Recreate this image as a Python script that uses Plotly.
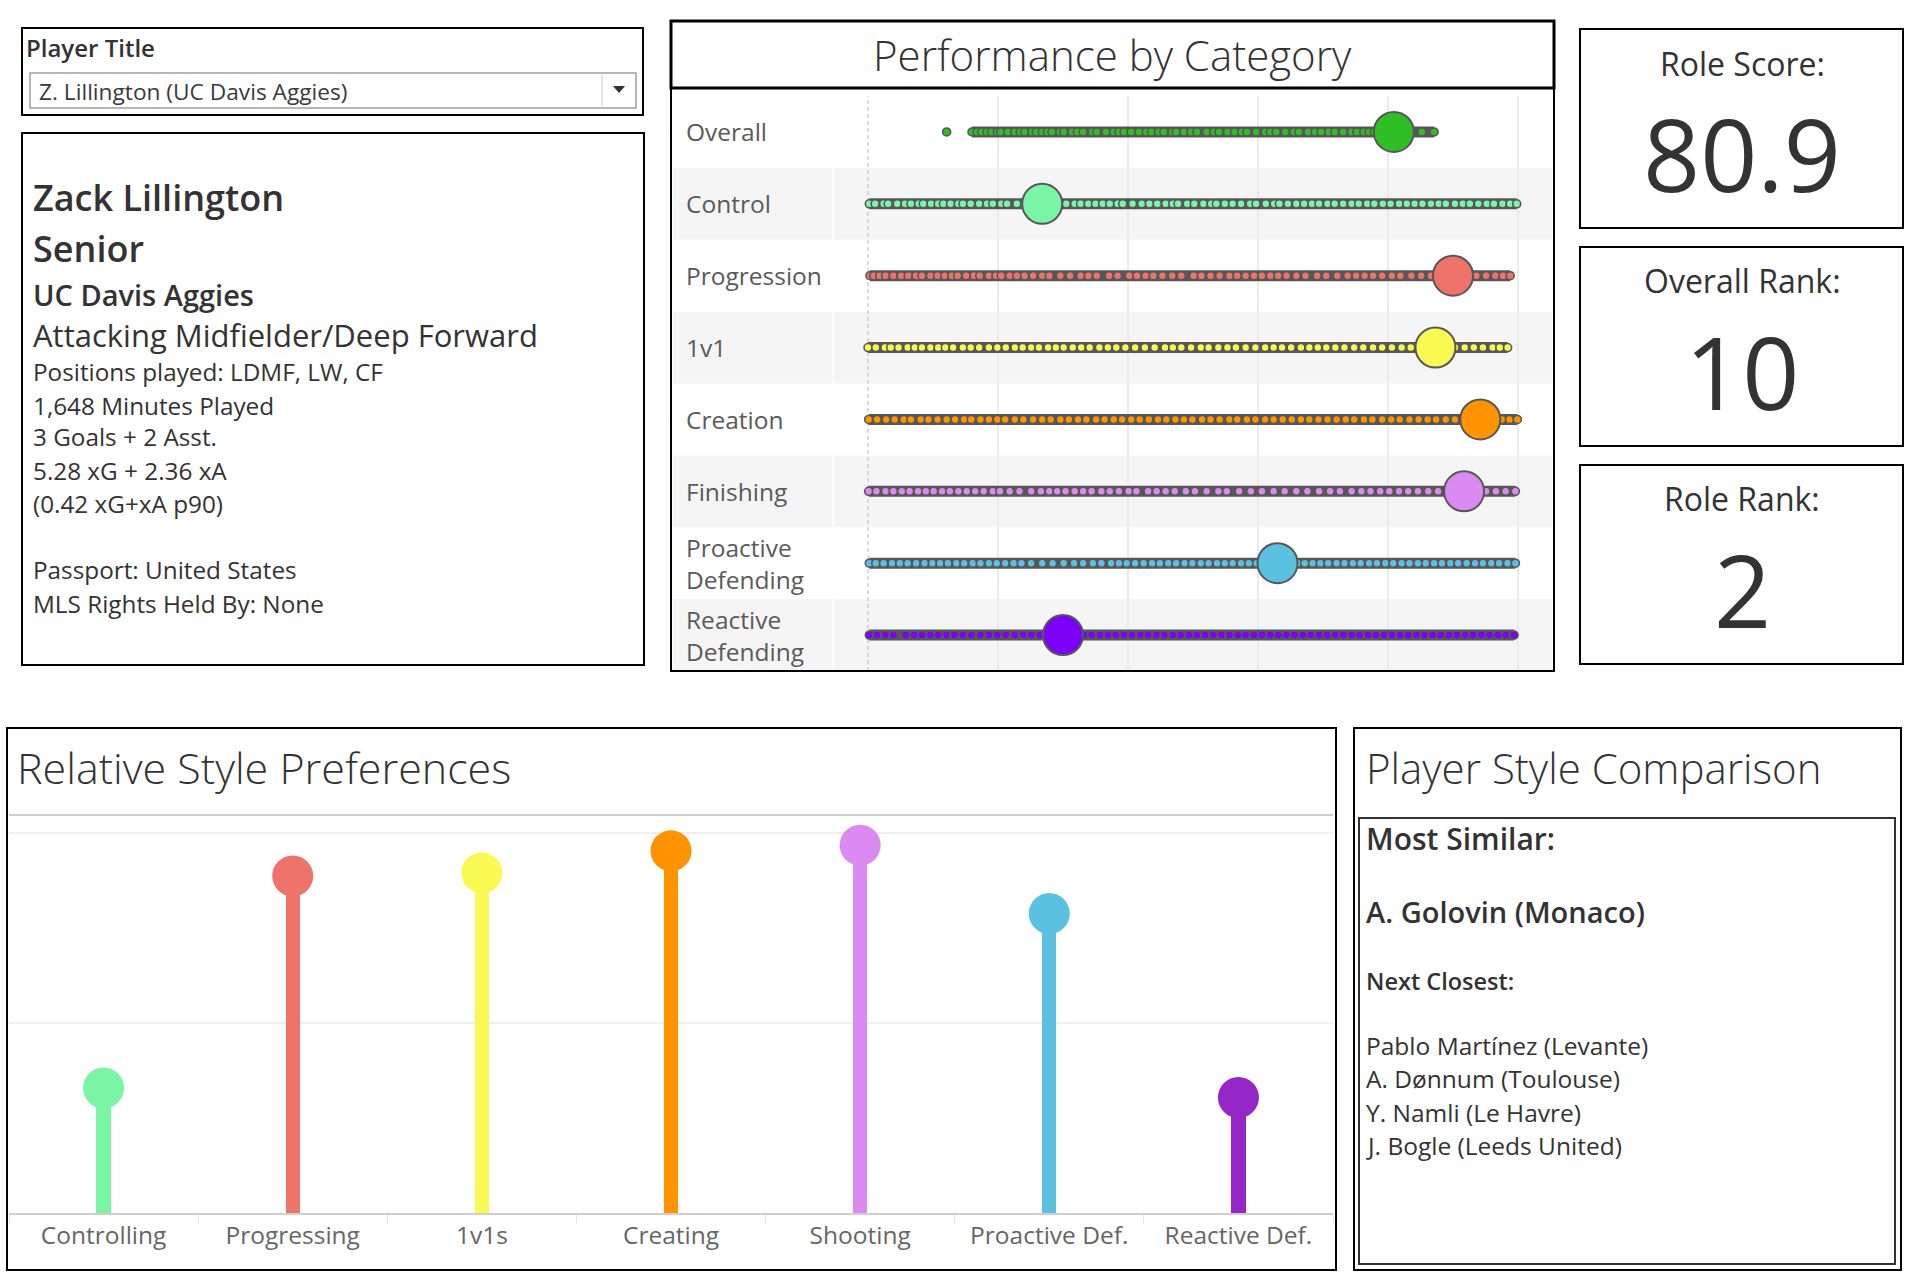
import plotly.graph_objects as go

W, H = 1910, 1278
FONT = "Open Sans"
DARK = "#333333"

# ---------------- data ----------------
perf_categories = ["Overall", "Control", "Progression", "1v1", "Creation",
                   "Finishing", "Proactive<br>Defending", "Reactive<br>Defending"]
perf_colors = ["#2EBF24", "#7AF5A6", "#EE7369", "#F8FA52", "#FF9400",
               "#DB8AF2", "#5BC1E1", "#7D00FA"]
player_values = [0.809, 0.268, 0.900, 0.873, 0.942, 0.917, 0.630, 0.300]

overall_pop = [0.121, 0.160, 0.168, 0.175, 0.183, 0.190, 0.199, 0.204, 0.215, 0.226, 0.234, 0.241,
               0.252, 0.259, 0.268, 0.276, 0.283, 0.295, 0.301, 0.314, 0.322, 0.331, 0.345, 0.352,
               0.366, 0.378, 0.386, 0.394, 0.405, 0.417, 0.428, 0.436, 0.447, 0.455, 0.468, 0.474,
               0.486, 0.497, 0.506, 0.521, 0.532, 0.540, 0.553, 0.564, 0.575, 0.583, 0.597, 0.611,
               0.619, 0.628, 0.642, 0.655, 0.663, 0.677, 0.688, 0.697, 0.709, 0.718, 0.731, 0.744,
               0.752, 0.763, 0.771, 0.779, 0.787, 0.796, 0.818, 0.834, 0.852, 0.871]
control_pop = [0.002, 0.011, 0.024, 0.031, 0.045, 0.057, 0.066, 0.078, 0.085, 0.097, 0.108, 0.116,
               0.127, 0.139, 0.146, 0.158, 0.171, 0.183, 0.192, 0.205, 0.214, 0.229, 0.241, 0.256,
               0.262, 0.281, 0.293, 0.305, 0.318, 0.327, 0.339, 0.350, 0.361, 0.372, 0.384, 0.392,
               0.407, 0.421, 0.433, 0.445, 0.458, 0.469, 0.477, 0.491, 0.502, 0.516, 0.528, 0.536,
               0.549, 0.561, 0.574, 0.588, 0.597, 0.612, 0.625, 0.633, 0.646, 0.659, 0.671, 0.683,
               0.694, 0.707, 0.718, 0.731, 0.744, 0.755, 0.768, 0.779, 0.792, 0.804, 0.817, 0.829,
               0.841, 0.853, 0.866, 0.878, 0.889, 0.903, 0.915, 0.926, 0.939, 0.952, 0.963, 0.976,
               0.988, 0.998]
progression_pop = [0.003, 0.009, 0.018, 0.027, 0.039, 0.051, 0.062, 0.074, 0.083, 0.096, 0.107,
                   0.118, 0.129, 0.138, 0.151, 0.163, 0.172, 0.186, 0.197, 0.205, 0.218, 0.229,
                   0.241, 0.254, 0.268, 0.279, 0.296, 0.311, 0.327, 0.339, 0.352, 0.371, 0.384,
                   0.402, 0.414, 0.427, 0.439, 0.453, 0.468, 0.482, 0.501, 0.513, 0.527, 0.541,
                   0.556, 0.568, 0.581, 0.594, 0.606, 0.619, 0.631, 0.644, 0.659, 0.673, 0.691,
                   0.705, 0.722, 0.738, 0.751, 0.764, 0.777, 0.791, 0.806, 0.819, 0.836, 0.851,
                   0.866, 0.879, 0.894, 0.909, 0.923, 0.936, 0.951, 0.965, 0.977, 0.988]
onevone_pop = [0.000, 0.012, 0.026, 0.035, 0.047, 0.061, 0.072, 0.083, 0.096, 0.108, 0.119, 0.131,
               0.146, 0.158, 0.171, 0.186, 0.199, 0.212, 0.226, 0.238, 0.251, 0.263, 0.277, 0.289,
               0.301, 0.315, 0.328, 0.341, 0.356, 0.369, 0.382, 0.396, 0.411, 0.426, 0.441, 0.457,
               0.469, 0.482, 0.497, 0.512, 0.524, 0.539, 0.553, 0.566, 0.581, 0.596, 0.611, 0.624,
               0.637, 0.651, 0.666, 0.679, 0.692, 0.705, 0.719, 0.733, 0.748, 0.762, 0.777, 0.791,
               0.806, 0.821, 0.835, 0.849, 0.861, 0.876, 0.891, 0.903, 0.918, 0.932, 0.946, 0.961,
               0.972, 0.984]
creation_pop = [0.001, 0.014, 0.028, 0.041, 0.055, 0.066, 0.081, 0.093, 0.107, 0.121, 0.134, 0.148,
                0.159, 0.173, 0.186, 0.199, 0.211, 0.226, 0.239, 0.254, 0.268, 0.281, 0.296, 0.309,
                0.323, 0.336, 0.351, 0.364, 0.378, 0.391, 0.405, 0.418, 0.432, 0.446, 0.459, 0.473,
                0.486, 0.499, 0.514, 0.527, 0.541, 0.556, 0.568, 0.583, 0.596, 0.611, 0.624, 0.638,
                0.652, 0.666, 0.679, 0.693, 0.707, 0.721, 0.735, 0.748, 0.763, 0.776, 0.791, 0.805,
                0.818, 0.833, 0.847, 0.861, 0.874, 0.889, 0.903, 0.917, 0.931, 0.948, 0.961, 0.975,
                0.987, 0.999]
finishing_pop = [0.001, 0.013, 0.027, 0.039, 0.052, 0.064, 0.077, 0.089, 0.101, 0.114, 0.126,
                 0.139, 0.152, 0.165, 0.178, 0.192, 0.203, 0.218, 0.233, 0.251, 0.266, 0.279,
                 0.291, 0.304, 0.318, 0.331, 0.344, 0.359, 0.372, 0.386, 0.401, 0.413, 0.431,
                 0.444, 0.458, 0.472, 0.489, 0.503, 0.521, 0.539, 0.552, 0.571, 0.589, 0.606,
                 0.624, 0.641, 0.659, 0.676, 0.694, 0.711, 0.726, 0.744, 0.759, 0.773, 0.788,
                 0.802, 0.817, 0.831, 0.846, 0.862, 0.877, 0.891, 0.906, 0.921, 0.936, 0.951,
                 0.966, 0.981, 0.996]
proactive_pop = [0.002, 0.012, 0.024, 0.037, 0.049, 0.061, 0.074, 0.087, 0.099, 0.111, 0.123,
                 0.136, 0.148, 0.161, 0.173, 0.186, 0.198, 0.211, 0.224, 0.236, 0.251, 0.268,
                 0.284, 0.301, 0.317, 0.331, 0.346, 0.359, 0.374, 0.386, 0.398, 0.411, 0.424,
                 0.437, 0.449, 0.462, 0.474, 0.487, 0.499, 0.512, 0.524, 0.537, 0.549, 0.561,
                 0.574, 0.586, 0.598, 0.611, 0.623, 0.637, 0.649, 0.661, 0.672, 0.684, 0.696,
                 0.708, 0.721, 0.733, 0.746, 0.758, 0.771, 0.783, 0.796, 0.808, 0.821, 0.833,
                 0.846, 0.858, 0.871, 0.883, 0.896, 0.908, 0.921, 0.934, 0.946, 0.959, 0.971,
                 0.984, 0.996]
reactive_pop = [0.002, 0.014, 0.027, 0.039, 0.058, 0.071, 0.083, 0.096, 0.108, 0.121, 0.133,
                0.146, 0.159, 0.173, 0.186, 0.199, 0.212, 0.226, 0.239, 0.251, 0.264, 0.276,
                0.289, 0.301, 0.317, 0.332, 0.344, 0.357, 0.369, 0.381, 0.394, 0.406, 0.419,
                0.431, 0.444, 0.456, 0.469, 0.481, 0.494, 0.506, 0.519, 0.531, 0.544, 0.556,
                0.569, 0.581, 0.594, 0.606, 0.619, 0.631, 0.644, 0.656, 0.669, 0.681, 0.694,
                0.706, 0.719, 0.731, 0.744, 0.756, 0.769, 0.781, 0.794, 0.806, 0.819, 0.831,
                0.844, 0.856, 0.869, 0.881, 0.894, 0.906, 0.919, 0.931, 0.944, 0.956, 0.969,
                0.981, 0.994]
population = [overall_pop, control_pop, progression_pop, onevone_pop, creation_pop,
              finishing_pop, proactive_pop, reactive_pop]

style_categories = ["Controlling", "Progressing", "1v1s", "Creating", "Shooting",
                    "Proactive Def.", "Reactive Def."]
style_values = [0.329, 0.887, 0.895, 0.953, 0.968, 0.788, 0.304]
style_colors = ["#7AF5A6", "#EE7369", "#F8FA52", "#FF9400", "#DB8AF2", "#5BC1E1", "#9527C8"]

info_lines = [
    ("Zack Lillington", 36, 600, 197),
    ("Senior", 36, 600, 248),
    ("UC Davis Aggies", 29, 600, 294),
    ("Attacking Midfielder/Deep Forward", 31, "normal", 335),
    ("Positions played: LDMF, LW, CF", 24.3, "normal", 371),
    ("1,648 Minutes Played", 24.3, "normal", 405),
    ("3 Goals + 2 Asst.", 24.3, "normal", 437),
    ("5.28 xG + 2.36 xA", 24.3, "normal", 470),
    ("(0.42 xG+xA p90)", 24.3, "normal", 503),
    ("Passport: United States", 24.3, "normal", 569),
    ("MLS Rights Held By: None", 24.3, "normal", 603),
]
kpi_titles = ["Role Score:", "Overall Rank:", "Role Rank:"]
kpi_values = ["80.9", "10", "2"]
similar_main = "A. Golovin (Monaco)"
similar_next = ["Pablo Martínez (Levante)", "A. Dønnum (Toulouse)",
                "Y. Namli (Le Havre)", "J. Bogle (Leeds United)"]


# ---------------- helpers ----------------
def px(x):
    return x / W


def py(y):
    return 1 - y / H


shapes = []
annotations = []


def rect(x0, y0, x1, y1, color="#000", width=2, fill=None, layer="above"):
    shapes.append(dict(type="rect", xref="paper", yref="paper",
                       x0=px(x0), x1=px(x1), y0=py(y1), y1=py(y0),
                       line=dict(color=color, width=width),
                       fillcolor=fill if fill else "rgba(0,0,0,0)", layer=layer))


def text(s, x, y, size, weight="normal", color=DARK, xanchor="left"):
    annotations.append(dict(text=s, x=px(x), y=py(y), xref="paper", yref="paper",
                            xanchor=xanchor, yanchor="middle", showarrow=False,
                            font=dict(family=FONT, size=size, color=color, weight=weight)))


fig = go.Figure()

# ---------------- performance strip chart ----------------
ROW_TOP, ROW_BOT = 96, 671
row_h = (ROW_BOT - ROW_TOP) / len(perf_categories)
for i in range(len(perf_categories)):
    if i % 2 == 1:
        rect(673, ROW_TOP + i * row_h, 1552, ROW_TOP + (i + 1) * row_h,
             color="rgba(0,0,0,0)", width=0, fill="#f5f5f5", layer="below")
shapes.append(dict(type="line", xref="paper", yref="paper", x0=px(833), x1=px(833),
                   y0=py(ROW_BOT), y1=py(ROW_TOP), line=dict(color="#ffffff", width=1.5),
                   layer="below"))
shapes.append(dict(type="line", xref="x", yref="paper", x0=0, x1=0,
                   y0=py(ROW_BOT), y1=py(ROW_TOP),
                   line=dict(color="#c4c4c4", width=1.2, dash="4px,3px"), layer="below"))

for i, (vals, col) in enumerate(zip(population, perf_colors)):
    s = sorted(vals)
    runs, cur = [], [s[0]]
    for v in s[1:]:
        if v - cur[-1] > 0.03:
            runs.append(cur)
            cur = [v]
        else:
            cur.append(v)
    runs.append(cur)
    for r in runs:
        if len(r) > 1:
            fig.add_trace(go.Scatter(x=[r[0], r[-1]], y=[i, i], mode="lines",
                                     line=dict(color="#575757", width=11),
                                     hoverinfo="skip", xaxis="x", yaxis="y"))
    fig.add_trace(go.Scatter(x=vals, y=[i] * len(vals), mode="markers",
                             marker=dict(size=8, color=col, line=dict(color="#575757", width=1.6)),
                             xaxis="x", yaxis="y"))
    fig.add_trace(go.Scatter(x=[player_values[i]], y=[i], mode="markers",
                             marker=dict(size=40, color=col, line=dict(color="#575757", width=2)),
                             xaxis="x", yaxis="y"))
    lab = perf_categories[i]
    annotations.append(dict(text=lab, x=px(684), y=i, xref="paper", yref="y",
                            xanchor="left", yanchor="middle", showarrow=False, align="left",
                            font=dict(family=FONT, size=24.5, color="#5a5a5a")))

# ---------------- lollipop chart ----------------
fig.add_trace(go.Bar(x=style_categories, y=style_values, width=0.075,
                     marker=dict(color=style_colors, line=dict(width=0)),
                     xaxis="x2", yaxis="y2"))
fig.add_trace(go.Scatter(x=style_categories, y=style_values, mode="markers",
                         marker=dict(size=41, color=style_colors, line=dict(width=0)),
                         xaxis="x2", yaxis="y2"))

# ---------------- boxes ----------------
rect(22, 28, 643, 115)
rect(30, 73, 636, 108, color="#a0a0a0", width=1.5)
shapes.append(dict(type="line", xref="paper", yref="paper", x0=px(602), x1=px(602),
                   y0=py(106), y1=py(75), line=dict(color="#dddddd", width=1.5)))
shapes.append(dict(type="path", xref="paper", yref="paper",
                   path=f"M {px(613)} {py(86)} L {px(625)} {py(86)} L {px(619)} {py(93)} Z",
                   fillcolor=DARK, line=dict(width=0)))
rect(22, 133, 644, 665)
rect(671, 21, 1554, 671)
rect(671, 21, 1554, 88, width=3)
for k in range(3):
    y0 = 29 + k * 218
    rect(1580, y0, 1903, y0 + 199)
rect(7, 728, 1336, 1270)
rect(1354, 728, 1901, 1270)
rect(1359, 818, 1895, 1264, color="#333", width=2)

# ---------------- texts ----------------
text("Player Title", 24, 48, 24, 600)
text("Z. Lillington (UC Davis Aggies)", 37, 91, 22.7, "normal", "#3a3a3a")
for s, size, wt, y in info_lines:
    text(s, 31, y, size, wt)

text("Performance by Category", 1112, 55, 42, 300, xanchor="center")
for k in range(3):
    y0 = 29 + k * 218
    text(kpi_titles[k], 1742, y0 + 34, 32, 500, xanchor="center")
    text(kpi_values[k], 1742, y0 + 124, 100, "normal", xanchor="center")

text("Relative Style Preferences", 15, 767, 43, 300)
text("Player Style Comparison", 1364, 767, 42, 300)
text("Most Similar:", 1364, 838, 30, 600)
text(similar_main, 1364, 911, 29, 600)
text("Next Closest:", 1364, 981, 23.5, 600)
for j, s in enumerate(similar_next):
    text(s, 1364, 1045 + j * 33.5, 24.5, "normal")

# ---------------- layout ----------------
fig.update_layout(
    width=W, height=H, margin=dict(l=0, r=0, t=0, b=0),
    paper_bgcolor="white", plot_bgcolor="rgba(0,0,0,0)", showlegend=False,
    font=dict(family=FONT, color=DARK),
    shapes=shapes, annotations=annotations, bargap=0,
    xaxis=dict(domain=[px(834), px(1551)], range=[-34 / 650, 683 / 650],
               tickvals=[0.2, 0.4, 0.6, 0.8, 1.0], showticklabels=False,
               showgrid=True, gridcolor="#ebebeb", gridwidth=1.5, zeroline=False,
               fixedrange=True),
    yaxis=dict(domain=[py(ROW_BOT), py(ROW_TOP)], range=[len(perf_categories) - 0.5, -0.5],
               showticklabels=False, showgrid=False, zeroline=False, fixedrange=True),
    xaxis2=dict(domain=[px(9), px(1333)], anchor="y2", type="category",
                categoryorder="array", categoryarray=style_categories,
                tickson="boundaries", ticks="outside", ticklen=8, tickcolor="#e2e2e2",
                showline=True, linecolor="#cfcfcf", linewidth=2, mirror=True,
                showgrid=False, tickfont=dict(family=FONT, size=24.5, color="#666666"),
                fixedrange=True),
    yaxis2=dict(domain=[py(1213), py(816)], anchor="x2", range=[0, 397 / 380],
                tickvals=[0.5, 1.0], showticklabels=False, showgrid=True,
                gridcolor="#efefef", gridwidth=1.5, zeroline=False, fixedrange=True),
)

fig.write_html("out.html", config={"displayModeBar": False},
               post_script="document.body.style.margin='0';document.body.style.overflow='hidden';")
